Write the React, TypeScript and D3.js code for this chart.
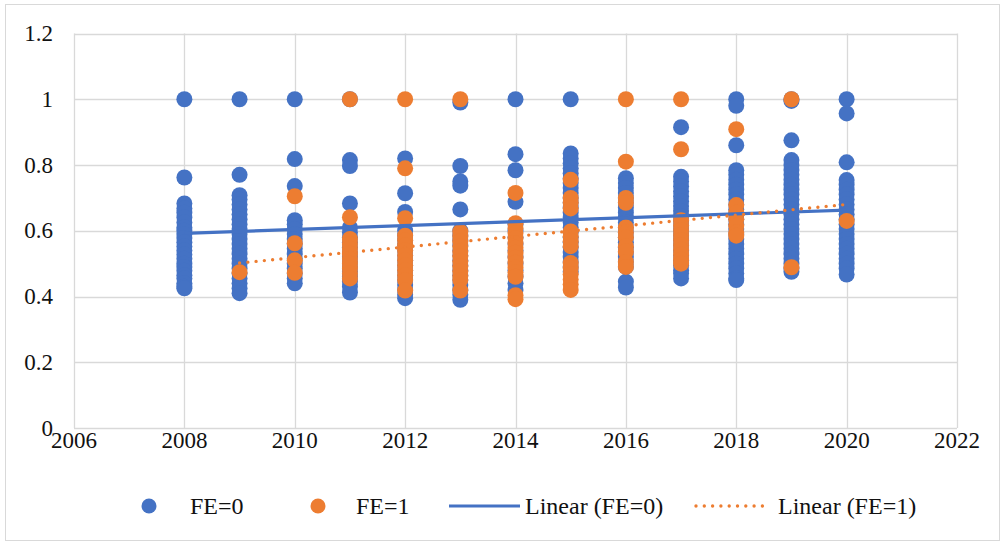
import React from "react";
import * as d3 from "d3";

const years = [2008, 2009, 2010, 2011, 2012, 2013, 2014, 2015, 2016, 2017, 2018, 2019, 2020];

const fe0Values: number[][] = [
  [1.0, 0.762, 0.683, 0.668, 0.655, 0.64, 0.625, 0.61, 0.6, 0.59, 0.578, 0.565, 0.552, 0.54, 0.528, 0.515, 0.5, 0.49, 0.478, 0.465, 0.455, 0.44, 0.43, 0.425],
  [1.0, 0.77, 0.708, 0.695, 0.68, 0.665, 0.65, 0.635, 0.62, 0.605, 0.59, 0.575, 0.56, 0.545, 0.53, 0.515, 0.5, 0.485, 0.47, 0.455, 0.44, 0.425, 0.41],
  [1.0, 0.818, 0.736, 0.632, 0.62, 0.605, 0.59, 0.575, 0.56, 0.545, 0.53, 0.515, 0.5, 0.485, 0.47, 0.455, 0.44],
  [1.0, 0.815, 0.797, 0.683, 0.61, 0.595, 0.58, 0.565, 0.55, 0.535, 0.52, 0.505, 0.49, 0.475, 0.46, 0.445, 0.43, 0.412],
  [0.82, 0.714, 0.657, 0.6, 0.585, 0.57, 0.555, 0.54, 0.525, 0.51, 0.495, 0.48, 0.465, 0.45, 0.435, 0.42, 0.405, 0.395],
  [0.99, 0.797, 0.75, 0.737, 0.665, 0.6, 0.585, 0.57, 0.555, 0.54, 0.525, 0.51, 0.495, 0.48, 0.465, 0.45, 0.435, 0.42, 0.405, 0.39],
  [1.0, 0.833, 0.784, 0.688, 0.62, 0.6, 0.58, 0.56, 0.54, 0.52, 0.5, 0.48, 0.46, 0.44, 0.42],
  [1.0, 0.835, 0.82, 0.805, 0.79, 0.775, 0.76, 0.745, 0.73, 0.715, 0.7, 0.685, 0.67, 0.655, 0.64, 0.625, 0.61, 0.595, 0.58, 0.565, 0.55, 0.535, 0.52, 0.505, 0.49, 0.475],
  [0.76, 0.745, 0.73, 0.715, 0.7, 0.685, 0.67, 0.655, 0.64, 0.625, 0.61, 0.595, 0.58, 0.565, 0.55, 0.535, 0.52, 0.505, 0.49, 0.445, 0.427],
  [0.915, 0.764, 0.75, 0.735, 0.72, 0.705, 0.69, 0.675, 0.66, 0.645, 0.63, 0.615, 0.6, 0.585, 0.57, 0.555, 0.54, 0.525, 0.51, 0.495, 0.48, 0.47, 0.455],
  [1.0, 0.98, 0.86, 0.784, 0.77, 0.755, 0.74, 0.725, 0.71, 0.695, 0.68, 0.665, 0.65, 0.635, 0.62, 0.605, 0.59, 0.575, 0.56, 0.545, 0.53, 0.515, 0.5, 0.485, 0.47, 0.455, 0.45],
  [1.0, 0.995, 0.875, 0.815, 0.8, 0.785, 0.77, 0.755, 0.74, 0.725, 0.71, 0.695, 0.68, 0.665, 0.65, 0.635, 0.62, 0.605, 0.59, 0.575, 0.56, 0.545, 0.53, 0.515, 0.5, 0.485, 0.475],
  [1.0, 0.957, 0.808, 0.754, 0.74, 0.725, 0.71, 0.695, 0.68, 0.665, 0.65, 0.635, 0.62, 0.605, 0.59, 0.575, 0.56, 0.545, 0.53, 0.515, 0.5, 0.485, 0.467],
];

const fe1Values: number[][] = [
  [],
  [0.474],
  [0.705, 0.562, 0.51, 0.472],
  [1.0, 0.641, 0.575, 0.56, 0.545, 0.53, 0.515, 0.5, 0.485, 0.47, 0.455],
  [1.0, 0.79, 0.638, 0.585, 0.57, 0.555, 0.54, 0.525, 0.51, 0.495, 0.48, 0.465, 0.45, 0.418],
  [1.0, 0.597, 0.582, 0.567, 0.552, 0.537, 0.522, 0.507, 0.492, 0.477, 0.462, 0.45, 0.418],
  [0.715, 0.623, 0.608, 0.593, 0.578, 0.563, 0.548, 0.533, 0.518, 0.503, 0.488, 0.473, 0.46, 0.404, 0.392],
  [0.755, 0.7, 0.685, 0.668, 0.598, 0.583, 0.568, 0.553, 0.502, 0.487, 0.468, 0.452, 0.437, 0.42],
  [1.0, 0.81, 0.7, 0.685, 0.61, 0.595, 0.58, 0.552, 0.537, 0.505, 0.49],
  [1.0, 0.848, 0.632, 0.617, 0.602, 0.587, 0.572, 0.557, 0.542, 0.527, 0.512, 0.5],
  [0.909, 0.678, 0.655, 0.635, 0.615, 0.595, 0.585],
  [1.0, 0.489],
  [0.63],
];

// Trend line endpoints [year, value]
const trendFE0: [number, number][] = [[2008, 0.592], [2020, 0.663]];
const trendFE1: [number, number][] = [[2009, 0.502], [2020, 0.68]];

const xTicks = [2006, 2008, 2010, 2012, 2014, 2016, 2018, 2020, 2022];
const yTicks = [0, 0.2, 0.4, 0.6, 0.8, 1, 1.2];

const seriesNames = ["FE=0", "FE=1", "Linear (FE=0)", "Linear (FE=1)"];

const BLUE = "#4472C4";
const ORANGE = "#ED7D31";
const GRID = "#D9D9D9";
const FONT = '"Liberation Serif"';

export default function App() {
  const W = 1001, H = 542;
  const x = d3.scaleLinear().domain([2006, 2022]).range([74, 957]);
  const y = d3.scaleLinear().domain([0, 1.2]).range([428, 33.5]);
  const line = d3.line<[number, number]>().x((d) => x(d[0])).y((d) => y(d[1]));

  const pts0 = years.flatMap((yr, i) => fe0Values[i].map((v) => [yr, v] as [number, number]));
  const pts1 = years.flatMap((yr, i) => fe1Values[i].map((v) => [yr, v] as [number, number]));

  const legY = 506;
  const ts = { fontFamily: FONT, fill: "#111" };
  return (
    <svg width={W} height={H} style={{ position: "absolute", left: 0, top: 0, background: "#fff" }}>
      <rect x={5.5} y={4.5} width={994} height={536} fill="#fff" stroke={GRID} strokeWidth={1} />
      {yTicks.map((t) => (
        <line key={"gy" + t} x1={x(2006)} x2={x(2022)} y1={Math.round(y(t)) + 0.5} y2={Math.round(y(t)) + 0.5} stroke={GRID} strokeWidth={1.3} />
      ))}
      {xTicks.map((t) => (
        <line key={"gx" + t} x1={Math.round(x(t)) + 0.5} x2={Math.round(x(t)) + 0.5} y1={y(1.2)} y2={y(0)} stroke={GRID} strokeWidth={1.3} />
      ))}
      {yTicks.map((t) => (
        <text key={"ty" + t} x={53} y={y(t) + 7.5} textAnchor="end" fontSize={23} style={ts}>
          {d3.format("~g")(t)}
        </text>
      ))}
      {xTicks.map((t) => (
        <text key={"tx" + t} x={x(t)} y={448} textAnchor="middle" fontSize={23} style={ts}>
          {t}
        </text>
      ))}
      {pts0.map((p, i) => (
        <circle key={"a" + i} cx={x(p[0])} cy={y(p[1])} r={8} fill={BLUE} />
      ))}
      {pts1.map((p, i) => (
        <circle key={"b" + i} cx={x(p[0])} cy={y(p[1])} r={8} fill={ORANGE} />
      ))}
      <path d={line(trendFE0) || ""} stroke={BLUE} strokeWidth={3.2} fill="none" />
      <path d={line(trendFE1) || ""} stroke={ORANGE} strokeWidth={3.4} fill="none" strokeDasharray="0 8.3" strokeLinecap="round" />
      <circle cx={149} cy={legY} r={7.5} fill={BLUE} />
      <text x={190} y={legY + 8} fontSize={24} style={ts}>{seriesNames[0]}</text>
      <circle cx={318} cy={legY} r={7.5} fill={ORANGE} />
      <text x={356} y={legY + 8} fontSize={24} style={ts}>{seriesNames[1]}</text>
      <line x1={449} x2={520} y1={legY} y2={legY} stroke={BLUE} strokeWidth={3.2} />
      <text x={525} y={legY + 8} fontSize={24} style={ts}>{seriesNames[2]}</text>
      <line x1={696} x2={770} y1={legY} y2={legY} stroke={ORANGE} strokeWidth={3.4} strokeDasharray="0 8.3" strokeLinecap="round" />
      <text x={778} y={legY + 8} fontSize={24} style={ts}>{seriesNames[3]}</text>
    </svg>
  );
}
